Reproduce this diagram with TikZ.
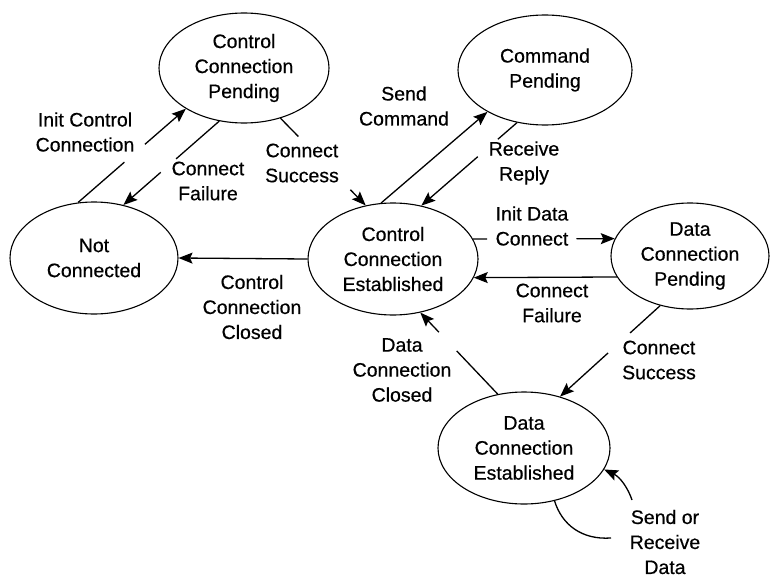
\documentclass[tikz,border=0pt]{standalone}
\usepackage{fontspec}
\setmainfont{Liberation Sans}[FakeBold=0.5]
\usetikzlibrary{shapes.geometric,arrows.meta}

\tikzset{
  state/.style={draw, ellipse, line width=1.1pt, inner sep=0pt, align=center,
    font=\fontsize{19.5}{25}\selectfont},
  lbl/.style={align=center, inner sep=0pt, font=\fontsize{19.5}{25}\selectfont},
  edge/.style={line width=1.3pt},
  arr/.style={edge, -{Stealth[length=14pt,width=11pt,inset=2.5pt]}},
}

\begin{document}
\begin{tikzpicture}[x=1pt,y=-1pt]
  \useasboundingbox[fill=white] (0,0) rectangle (773,578);

  % states
  \node[state, minimum width=168pt, minimum height=112pt] (nc)  at (94,258)  {Not\\Connected};
  \node[state, minimum width=170pt, minimum height=110pt] (ccp) at (244,68)  {Control\\Connection\\Pending};
  \node[state, minimum width=174pt, minimum height=110pt] (cp)  at (545,70)  {Command\\Pending};
  \node[state, minimum width=170pt, minimum height=112pt] (cce) at (393,259) {Control\\Connection\\Established};
  \node[state, minimum width=158pt, minimum height=106pt] (dcp) at (690,256) {Data\\Connection\\Pending};
  \node[state, minimum width=172pt, minimum height=112pt] (dce) at (524,448) {Data\\Connection\\Established};

  % transition labels
  \node[lbl] (l-icc) at (85,132)  {Init Control\\Connection};
  \node[lbl] (l-cf1) at (208,181) {Connect\\Failure};
  \node[lbl] (l-cs1) at (302,163) {Connect\\Success};
  \node[lbl] (l-sc)  at (404,106) {Send\\Command};
  \node[lbl] (l-rr)  at (524,163) {Receive\\Reply};
  \node[lbl] (l-idc) at (532,226) {Init Data\\Connect};
  \node[lbl] (l-cf2) at (552,303) {Connect\\Failure};
  \node[lbl] (l-ccc) at (252,307) {Control\\Connection\\Closed};
  \node[lbl] (l-dcc) at (402,370) {Data\\Connection\\Closed};
  \node[lbl] (l-cs2) at (659,360) {Connect\\Success};
  \node[lbl] (l-srd) at (665,542) {Send or\\Receive\\Data};

  % Not Connected -> Control Connection Pending (broken at its label)
  \path (nc.106) -- (ccp.215) coordinate[pos=0.43] (g1a) coordinate[pos=0.62] (g1b);
  \draw[edge] (nc.106) -- (g1a);
  \draw[arr] (g1b) -- (ccp.215);

  % Control Connection Pending -> Not Connected
  \path (ccp.245) -- (nc.61) coordinate[pos=0.45] (g2a) coordinate[pos=0.61] (g2b);
  \draw[edge] (ccp.245) -- (g2a);
  \draw[arr] (g2b) -- (nc.61);

  % Control Connection Pending -> Control Connection Established
  \path (ccp.306) -- (cce.117) coordinate[pos=0.21] (g3a) coordinate[pos=0.82] (g3b);
  \draw[edge] (ccp.306) -- (g3a);
  \draw[arr] (g3b) -- (cce.117);

  % Control Connection Established -> Command Pending
  \draw[arr] (cce.102) -- (cp.216);

  % Command Pending -> Control Connection Established
  \path (cp.242) -- (cce.62) coordinate[pos=0.2] (g4a) coordinate[pos=0.41] (g4b);
  \draw[edge] (cp.242) -- (g4a);
  \draw[arr] (g4b) -- (cce.62);

  % Control Connection Established -> Data Connection Pending
  \path (cce.14) -- (dcp.167) coordinate[pos=0.1] (g5a) coordinate[pos=0.73] (g5b);
  \draw[edge] (cce.14) -- (g5a);
  \draw[arr] (g5b) -- (dcp.167);

  % Data Connection Pending -> Control Connection Established
  \draw[arr] (dcp.196) -- (cce.347);

  % Control Connection Established -> Not Connected
  \draw[arr] (cce.west) -- (nc.east);

  % Data Connection Pending -> Data Connection Established
  \path (dcp.239) -- (dce.55) coordinate[pos=0.3] (g6a) coordinate[pos=0.52] (g6b);
  \draw[edge] (dcp.239) -- (g6a);
  \draw[arr] (g6b) -- (dce.55);

  % Data Connection Established -> Control Connection Established
  \path (dce.116) -- (cce.297) coordinate[pos=0.53] (g7a) coordinate[pos=0.76] (g7b);
  \draw[edge] (dce.116) -- (g7a);
  \draw[arr] (g7b) -- (cce.297);

  % self loop on Data Connection Established
  \coordinate (lp-a) at (611,538);
  \coordinate (lp-b) at (632,500);
  \draw[edge] (dce.300) .. controls (562,525) and (582,540) .. (lp-a);
  \draw[arr] (lp-b) .. controls (628,488) and (620,477) .. (dce.345);
\end{tikzpicture}
\end{document}
